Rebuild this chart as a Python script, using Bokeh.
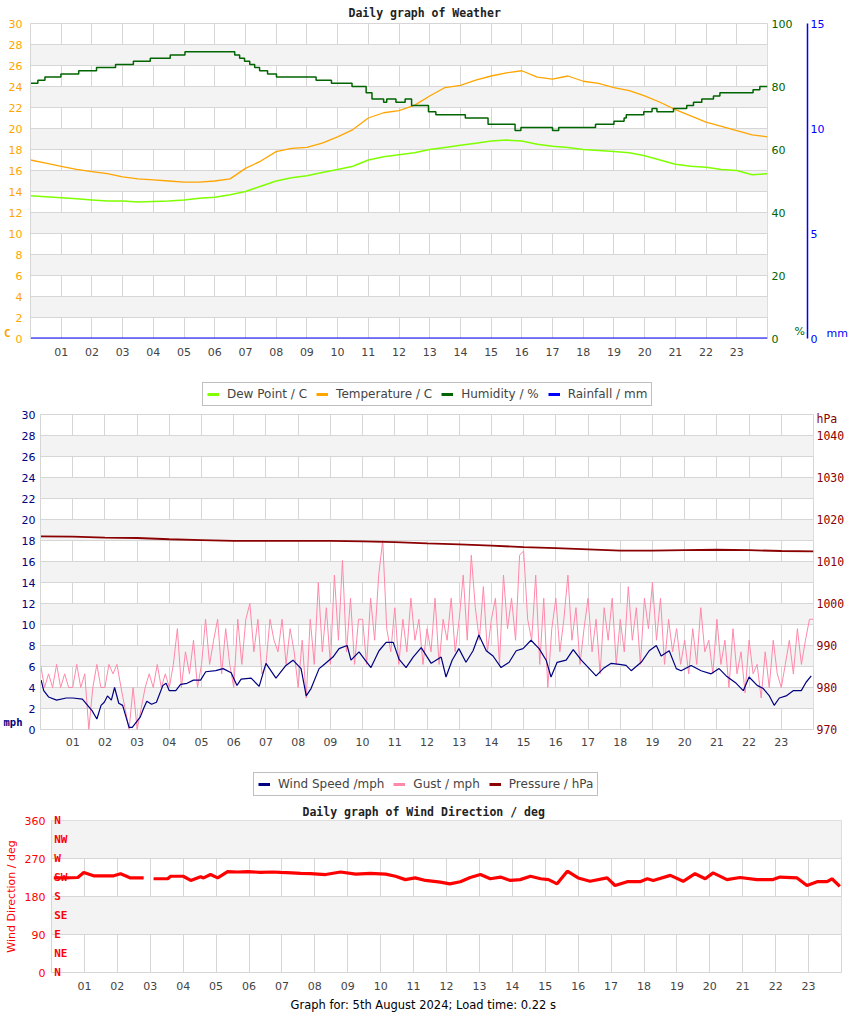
import math
from bokeh.plotting import figure
from bokeh.models import Range1d, LinearAxis, FixedTicker, Legend, LegendItem, Title
from bokeh.embed import file_html
from bokeh.resources import INLINE

NAN = float("nan")

# ---------------- data ----------------
hour_ticks = list(range(1, 24))
hour_labels = ["%02d" % h for h in hour_ticks]

half_hours = [i * 0.5 for i in range(49)]
temperature_c = [17.0, 16.7, 16.4, 16.1, 15.9, 15.7, 15.4, 15.2, 15.1, 15.0,
                 14.9, 14.9, 15.0, 15.2, 16.2, 16.9, 17.8, 18.1, 18.2, 18.6,
                 19.2, 19.9, 21.0, 21.5, 21.7, 22.2, 23.1, 23.9, 24.1, 24.6,
                 25.0, 25.3, 25.5, 24.9, 24.7, 25.0, 24.5, 24.3, 23.9, 23.6,
                 23.1, 22.5, 21.8, 21.2, 20.6, 20.2, 19.8, 19.4, 19.2]
dew_point_c = [13.6, 13.5, 13.4, 13.3, 13.2, 13.1, 13.1, 13.0, 13.05, 13.1,
               13.2, 13.35, 13.45, 13.7, 14.0, 14.5, 15.0, 15.3, 15.5, 15.8,
               16.1, 16.4, 17.0, 17.3, 17.5, 17.7, 18.0, 18.2, 18.4, 18.6,
               18.8, 18.9, 18.8, 18.5, 18.3, 18.2, 18.0, 17.9, 17.8, 17.7,
               17.4, 17.0, 16.6, 16.4, 16.3, 16.1, 16.0, 15.6, 15.7]
humidity_hours = [0.0, 0.24, 0.47, 0.99, 1.57, 2.15, 2.77, 3.35, 3.9, 4.55,
                  5.03, 6.65, 6.81, 6.97, 7.14, 7.3, 7.46, 7.72, 8.01, 9.3,
                  9.8, 10.47, 10.93, 11.12, 11.5, 11.6, 11.9, 12.2, 12.41, 12.96,
                  13.2, 14.16, 14.9, 15.78, 15.97, 17.0, 17.2, 18.4, 19.0, 19.33,
                  19.4, 19.97, 20.24, 20.4, 20.94, 21.37, 21.59, 21.86, 22.24, 22.45,
                  23.53, 23.75, 24.0]
humidity_pct = [81, 82, 83, 84, 85, 86, 87, 88, 89, 90,
                91, 90, 89, 88, 87, 86, 85, 84, 83, 82,
                81, 80, 78, 76, 75, 76, 75, 76, 74, 72,
                71, 70, 68, 66, 67, 66, 67, 68, 69, 70,
                71, 72, 73, 72, 73, 74, 75, 76, 77, 78,
                79, 80, 80]
rain_hours = list(range(25))
rainfall_mm = [0.0] * 25

wind_hours = [0.02, 0.1, 0.25, 0.5, 0.8, 1.0, 1.3, 1.6, 1.75, 1.88,
              1.98, 2.08, 2.2, 2.3, 2.43, 2.55, 2.75, 2.85, 3.1, 3.2,
              3.3, 3.45, 3.6, 3.8, 3.9, 4.0, 4.2, 4.35, 4.55, 4.75,
              4.97, 5.13, 5.44, 5.67, 5.92,
              6.1, 6.23, 6.54, 6.79, 7.0, 7.31, 7.62, 7.84, 8.09, 8.25,
              8.4, 8.65, 8.77, 9.08, 9.27, 9.52, 9.64, 9.89, 10.08, 10.26,
              10.51, 10.73, 10.95, 11.13, 11.35, 11.57, 11.82, 12.13, 12.44, 12.59,
              12.78, 12.99, 13.21, 13.43, 13.61, 13.84, 14.05, 14.3, 14.55, 14.77,
              14.98, 15.23, 15.48, 15.7, 15.85, 16.04, 16.32, 16.54, 16.79, 17.04,
              17.25, 17.47, 17.72, 17.97, 18.18, 18.34, 18.65, 18.9, 19.12, 19.27,
              19.52, 19.74, 19.89, 20.2, 20.51, 20.82, 21.07, 21.29, 21.6, 21.82,
              22.0, 22.25, 22.44, 22.63, 22.78, 22.94, 23.15, 23.37, 23.62, 23.77,
              23.93]
wind_speed_mph = [4.7, 3.7, 3.1, 2.8, 3.0, 3.0, 2.9, 1.8, 1.0, 2.3,
                  2.6, 3.2, 2.8, 4.0, 2.5, 2.3, 0.2, 0.2, 1.2, 2.0,
                  2.7, 2.4, 2.6, 4.2, 4.4, 3.7, 3.7, 4.3, 4.4, 4.7,
                  4.7, 5.5, 5.6, 5.8, 5.4,
                  4.2, 4.8, 4.9, 4.1, 6.3, 4.9, 6.1, 6.6, 5.8, 3.2,
                  3.9, 5.8, 6.1, 6.9, 7.7, 8.0, 6.6, 7.4, 6.6, 5.9,
                  7.5, 8.3, 8.3, 6.7, 5.9, 6.9, 7.8, 6.3, 6.9, 5.0,
                  6.6, 7.7, 6.4, 7.5, 9.0, 7.5, 7.0, 5.9, 6.4, 7.5,
                  7.7, 8.5, 7.7, 6.6, 5.0, 6.4, 6.6, 7.6, 6.6, 5.8,
                  5.1, 5.8, 6.3, 6.2, 6.1, 5.6, 6.4, 7.5, 8.0, 7.0,
                  7.5, 5.8, 5.6, 6.1, 5.6, 5.3, 5.8, 5.1, 4.4, 3.7,
                  5.0, 4.2, 3.9, 3.2, 2.3, 3.0, 3.2, 3.7, 3.7, 4.5,
                  5.1]
gust_hours = [i * 0.125 for i in range(193)]
gust_mph = [
    6.2, 4.0, 5.3, 4.0, 6.2, 4.0, 5.3, 4.0,
    4.0, 6.2, 4.0, 5.3, 0.0, 4.0, 6.2, 4.0,
    4.0, 6.2, 5.3, 6.2, 4.0, 2.0, 0.0, 4.0,
    0.0, 2.0, 4.0, 5.3, 4.0, 6.2, 4.0, 5.3,
    4.0, 6.2, 9.6, 4.0, 7.4, 5.3, 8.5, 4.0,
    6.2, 10.5, 6.2, 8.5, 10.5, 5.3, 9.6, 6.2,
    4.0, 10.5, 6.2, 10.5, 12.0, 7.4, 10.5, 5.3,
    6.2, 10.5, 8.5, 7.4, 10.5, 6.2, 9.6, 7.4,
    4.0, 8.5, 3.0, 10.5, 6.2, 14.0, 7.4, 11.6,
    6.2, 14.7, 8.5, 16.1, 7.4, 12.5, 6.2, 10.5,
    10.5, 6.2, 12.5, 8.5, 14.7, 18.0, 9.6, 7.4,
    11.6, 6.2, 10.5, 7.4, 12.5, 8.5, 10.5, 6.2,
    9.6, 7.4, 12.5, 6.2, 10.5, 8.5, 12.5, 7.4,
    10.5, 14.7, 8.5, 16.6, 11.6, 8.5, 13.6, 7.4,
    10.5, 12.5, 6.2, 14.7, 9.6, 12.5, 8.5, 16.6,
    17.0, 10.5, 8.5, 14.7, 6.2, 12.5, 4.0, 9.6,
    12.5, 7.4, 10.5, 14.7, 8.5, 11.6, 6.2, 9.6,
    12.5, 7.4, 10.5, 5.3, 11.6, 8.5, 12.5, 6.2,
    10.5, 7.4, 13.6, 8.5, 11.6, 6.2, 12.5, 9.6,
    14.0, 8.5, 12.5, 6.2, 10.5, 7.4, 9.6, 6.2,
    8.5, 5.3, 9.6, 6.2, 11.6, 7.4, 8.5, 5.3,
    10.5, 6.2, 8.5, 4.0, 9.6, 5.3, 7.4, 3.5,
    8.5, 5.3, 6.2, 3.0, 7.4, 4.0, 8.5, 5.3,
    4.0, 6.2, 8.5, 5.3, 9.6, 6.2, 8.5, 10.5,
    10.5]
pressure_hours = list(range(25))
pressure_hpa = [1016.0, 1015.9, 1015.7, 1015.6, 1015.3, 1015.1, 1014.9, 1014.9, 1014.9, 1014.9,
                1014.8, 1014.6, 1014.3, 1014.1, 1013.8, 1013.4, 1013.2, 1012.9, 1012.6, 1012.6,
                1012.7, 1012.8, 1012.7, 1012.5, 1012.4]

dir_hours = [0.07, 0.4, 0.8, 0.98, 1.28, 1.6, 1.89, 2.1, 2.4, 2.8,
             2.95, 3.1, 3.53, 3.62, 4.0, 4.23, 4.53, 4.62, 4.83, 5.05,
             5.35, 5.65, 5.96, 6.35, 6.7, 6.96, 7.3, 7.57, 7.87, 8.33,
             8.78, 9.24, 9.69, 10.15, 10.45, 10.75, 11.05, 11.36, 11.81, 12.1,
             12.42, 12.72, 13.03, 13.33, 13.64, 13.94, 14.24, 14.55, 14.86, 15.1,
             15.36, 15.67, 16.0, 16.36, 16.88, 17.12, 17.49, 17.88, 18.1, 18.28,
             18.8, 19.19, 19.55, 19.86, 20.1, 20.52, 20.92, 21.43, 21.92, 22.13,
             22.65, 22.95, 23.26, 23.56, 23.71, 23.95]
dir_deg = [224, 224, 225, 237, 229, 229, 229, 234, 224, 224,
           NAN, 222, 222, 228, 228, 218, 227, 224, 232, 224,
           239, 238, 239, 237, 238, 237, 236, 235, 234, 232,
           238, 233, 235, 233, 228, 220, 224, 218, 214, 210,
           215, 225, 232, 222, 226, 218, 220, 228, 222, 220,
           210, 240, 224, 216, 224, 206, 215, 215, 222, 218,
           230, 216, 234, 222, 236, 220, 225, 220, 220, 226,
           224, 206, 215, 215, 222, 204]
compass_labels = ["N", "NE", "E", "SE", "S", "SW", "W", "NW", "N"]
compass_deg = [0, 45, 90, 135, 180, 225, 270, 315, 360]

# ---------------- styling ----------------
FONT = "DejaVu Sans"
MONO = "DejaVu Sans Mono"
GRID = "#d6d6d6"
BAND = "#f3f3f3"
W = 850

C_TEMP = "#ffa500"
C_DEW = "#7fff00"
C_HUM = "#006400"
C_RAIN = "#0000ff"
C_WIND = "#000080"
C_GUST = "#ff88aa"
C_PRES = "#8b0000"
C_DIR = "#ff0000"


def make_fig(height, y0, y1, left, right, top, bottom):
    p = figure(width=W, height=height, x_range=Range1d(0, 24), y_range=Range1d(y0, y1),
               output_backend="svg", toolbar_location=None,
               min_border_left=left, min_border_right=right,
               min_border_top=top, min_border_bottom=bottom)
    p.background_fill_color = "white"
    p.border_fill_color = "white"
    p.outline_line_color = GRID
    return p


def plain_axis(ax, color, size="11px", font=FONT, bold=False, standoff=0):
    ax.axis_line_color = None
    ax.major_tick_line_color = None
    ax.minor_tick_line_color = None
    ax.major_tick_out = 0
    ax.major_tick_in = 0
    ax.minor_tick_out = 0
    ax.minor_tick_in = 0
    ax.axis_label_standoff = 0
    ax.major_label_text_color = color
    ax.major_label_text_font = font
    ax.major_label_text_font_size = size
    ax.major_label_text_font_style = "bold" if bold else "normal"
    ax.major_label_standoff = standoff


def unit_axis(p, side, ypos, text, color, size="11px", font=FONT, bold=False,
              standoff=0, range_name="default"):
    ax = LinearAxis(y_range_name=range_name, ticker=FixedTicker(ticks=[ypos]),
                    major_label_overrides={ypos: text})
    plain_axis(ax, color, size, font, bold, standoff)
    p.add_layout(ax, side)
    return ax


def finish(p, yticks, xstand):
    p.xaxis.ticker = FixedTicker(ticks=hour_ticks)
    p.xgrid.ticker = FixedTicker(ticks=hour_ticks)
    p.xaxis.major_label_overrides = dict(zip(hour_ticks, hour_labels))
    p.yaxis[0].ticker = FixedTicker(ticks=yticks)
    p.ygrid.ticker = FixedTicker(ticks=yticks)
    for ax in list(p.xaxis) + [p.yaxis[0]]:
        plain_axis(ax, "#444444")
    p.xaxis.major_label_standoff = xstand
    p.grid.grid_line_color = GRID
    p.ygrid.band_fill_color = BAND
    p.ygrid.band_fill_alpha = 1.0


def style_title(t, offset, standoff):
    t.align = "left"
    t.offset = offset
    t.standoff = standoff
    t.text_font = MONO
    t.text_font_size = "11.5px"
    t.text_font_style = "bold"
    t.text_color = "#222222"


def legend_fig(height, items, x, y):
    f = figure(width=W, height=height, x_range=Range1d(0, 1), y_range=Range1d(0, 1),
               x_axis_location=None, y_axis_location=None, output_backend="svg",
               toolbar_location=None, min_border=0)
    f.outline_line_color = None
    f.grid.visible = False
    f.background_fill_color = "white"
    f.border_fill_color = "white"
    its = []
    for label, color in items:
        r = f.line([-5, -4], [-5, -5], color=color, line_width=3)
        its.append(LegendItem(label=label, renderers=[r]))
    leg = Legend(items=its, orientation="horizontal", location=(x, y),
                 border_line_color="#808080", border_line_width=1,
                 label_text_font=FONT, label_text_font_size="12px",
                 glyph_width=12, glyph_height=12, label_height=12, label_width=10,
                 label_standoff=8, spacing=9, padding=4, margin=0,
                 background_fill_color="white", background_fill_alpha=1.0)
    f.add_layout(leg, "center")
    return f


# ================= Panel 1: weather =================
p1 = make_fig(370, 0, 30, 30, 79, 23, 32)
p1.extra_y_ranges = {"hum": Range1d(0, 100), "rain": Range1d(0, 15)}
finish(p1, list(range(0, 31, 2)), 9)
p1.yaxis[0].major_label_text_color = C_TEMP
p1.yaxis[0].major_label_standoff = 8
p1.yaxis[0].axis_line_color = GRID
unit_axis(p1, "left", 0.45, "C", C_TEMP, "11px", MONO, True, -5)

ax_h = LinearAxis(y_range_name="hum", ticker=FixedTicker(ticks=[0, 20, 40, 60, 80, 100]))
plain_axis(ax_h, C_HUM, standoff=4)
p1.add_layout(ax_h, "right")
unit_axis(p1, "right", 0.7, "%", C_HUM, "11px", FONT, False, -1)
ax_r = LinearAxis(y_range_name="rain", ticker=FixedTicker(ticks=[0, 5, 10, 15]))
plain_axis(ax_r, C_RAIN, standoff=3)
ax_r.axis_line_color = C_RAIN
ax_r.axis_line_width = 1.5
p1.add_layout(ax_r, "right")
unit_axis(p1, "right", 0.5, "mm", C_RAIN, "11px", FONT, False, -1)

p1.title.text = "Daily graph of Weather"
style_title(p1.title, 318, 7)

p1.line(rain_hours, rainfall_mm, y_range_name="rain", color=C_RAIN, line_width=2)
p1.line(half_hours, dew_point_c, color=C_DEW, line_width=1.5)
p1.line(half_hours, temperature_c, color=C_TEMP, line_width=1.3)
p1.step(humidity_hours, humidity_pct, mode="after", y_range_name="hum",
        color=C_HUM, line_width=1.5)

leg1 = legend_fig(40, [("Dew Point / C", C_DEW), ("Temperature / C", C_TEMP),
                       ("Humidity / %", C_HUM), ("Rainfall / mm", C_RAIN)], 202, 4)

# ================= Panel 2: wind =================
p2 = make_fig(350, 0, 30, 40, 37, 4, 31)
p2.extra_y_ranges = {"pres": Range1d(970, 1045)}
finish(p2, list(range(0, 31, 2)), 8)
p2.yaxis[0].major_label_text_color = C_WIND
p2.yaxis[0].major_label_standoff = 5
p2.yaxis[0].axis_line_color = GRID
unit_axis(p2, "left", 0.67, "mph", C_WIND, "10.5px", MONO, True, -4)
ax_p = LinearAxis(y_range_name="pres",
                  ticker=FixedTicker(ticks=list(range(970, 1041, 10)) + [1044]),
                  major_label_overrides={1044: "hPa"})
plain_axis(ax_p, C_PRES, "11.5px", MONO, False, 3)
p2.add_layout(ax_p, "right")

p2.line(gust_hours, gust_mph, color=C_GUST, line_width=1)
p2.line(wind_hours, wind_speed_mph, color=C_WIND, line_width=1.2)
p2.line(pressure_hours, pressure_hpa, y_range_name="pres", color=C_PRES, line_width=1.8)

leg2 = legend_fig(40, [("Wind Speed /mph", C_WIND), ("Gust / mph", C_GUST),
                       ("Pressure / hPa", C_PRES)], 253, 4)

# ================= Panel 3: wind direction =================
p3 = make_fig(216, 0, 360, 51, 9, 20, 44)
finish(p3, [0, 90, 180, 270, 360], 9)
p3.yaxis[0].major_label_text_color = C_DIR
p3.yaxis[0].major_label_standoff = 6
p3.yaxis[0].axis_line_color = GRID
p3.yaxis[0].axis_label = "Wind Direction / deg"
p3.yaxis[0].axis_label_text_color = C_DIR
p3.yaxis[0].axis_label_text_font = FONT
p3.yaxis[0].axis_label_text_font_style = "normal"
p3.yaxis[0].axis_label_text_font_size = "11px"
p3.yaxis[0].axis_label_standoff = 4

NB = "\u00a0"
ax_c = LinearAxis(ticker=FixedTicker(ticks=compass_deg),
                  major_label_overrides={d: (lab + NB * (2 - len(lab)))
                                         for d, lab in zip(compass_deg, compass_labels)})
plain_axis(ax_c, C_DIR, "11px", MONO, True, -16)
p3.left = [ax_c] + list(p3.left)

p3.line(dir_hours, dir_deg, color=C_DIR, line_width=3.2)

p3.title.text = "Daily graph of Wind Direction / deg"
style_title(p3.title, 251, 4)

footer = Title(text="Graph for: 5th August 2024; Load time: 0.22 s", align="left",
               offset=239, standoff=7, text_font=FONT, text_font_size="11.5px",
               text_font_style="normal", text_color="#000000")
p3.add_layout(footer, "below")

open("out.html", "w").write(file_html([p1, leg1, p2, leg2, p3], INLINE))
